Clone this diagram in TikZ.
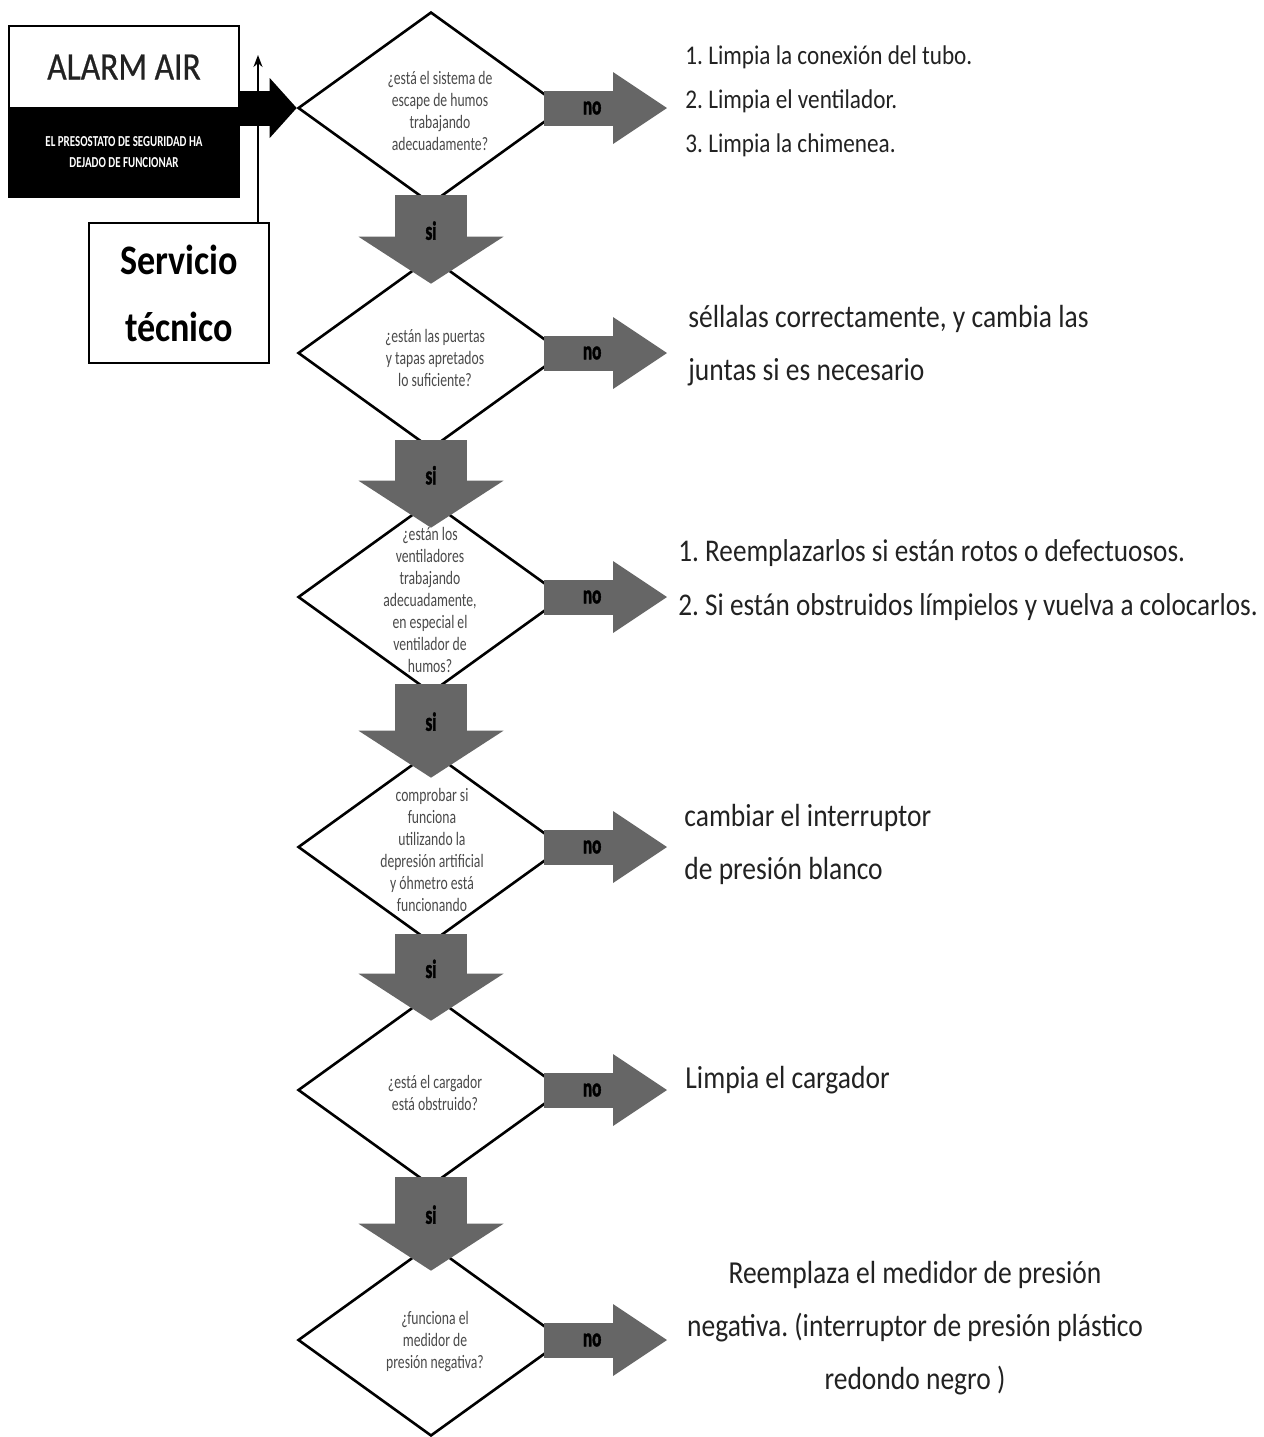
\documentclass[tikz,border=0pt]{standalone}
\usepackage{fontspec}
\setmainfont{Carlito}[FakeStretch=0.86]
\newfontfamily\condfont{Carlito}[FakeStretch=0.72]
\newfontfamily\labelfont{Carlito}[FakeStretch=0.66, BoldFeatures={FakeBold=1.6}]
\newfontfamily\alarmfont{Carlito}[FakeStretch=0.86, FakeBold=0.6]
\frenchspacing
\usetikzlibrary{shapes.geometric}
\usetikzlibrary{arrows.meta}
\usetikzlibrary{calc}

\definecolor{arrowgray}{HTML}{666666}
\definecolor{qgray}{HTML}{4A4A4A}
\definecolor{textdark}{HTML}{222222}

\tikzset{
  decision/.style={draw, diamond, line width=1.3pt, minimum width=133pt, minimum height=96pt, inner sep=0pt},
  question/.style={align=center, text=qgray, inner sep=0pt, font=\condfont\fontsize{9.5}{11}\selectfont},
  answer/.style={anchor=west, align=left, inner sep=0pt, text=textdark, font=\fontsize{16}{26.5}\selectfont},
  siarrow/.style={draw=arrowgray, line width=36pt, -{Triangle[width=72.5pt,length=23.5pt,line width=0pt]}},
  noarrow/.style={draw=arrowgray, line width=17.5pt, -{Triangle[width=36pt,length=27pt,line width=0pt]}},
  yesno/.style={text=black, font=\labelfont\bfseries\fontsize{13}{13}\selectfont},
}

\begin{document}
\begin{tikzpicture}[x=0.5pt, y=-0.5pt]
    \useasboundingbox (0,0) rectangle (1264,1437);

    % alarm box and service box
    \node[draw, line width=1.2pt, minimum width=115pt, minimum height=41pt, inner sep=0pt, text=textdark, font=\alarmfont\fontsize{19.5}{20}\selectfont] (alarm) at (124,67) {ALARM AIR};
    \node[draw, fill=black, line width=1.2pt, minimum width=115pt, minimum height=44.5pt, inner sep=0pt, align=center, text=white, font=\condfont\bfseries\fontsize{7.6}{10.5}\selectfont] (alarmsub) at (124,152.5) {EL PRESOSTATO DE SEGURIDAD HA\\DEJADO DE FUNCIONAR};
    \node[draw, line width=0.9pt, minimum width=90pt, minimum height=70pt, inner sep=0pt, align=center, font=\bfseries\fontsize{21}{33.5}\selectfont] (servicio) at (179,293) {Servicio\\técnico};

    % decisions
    \node[decision] (d1) at (431,108) {};
    \node[decision] (d2) at (431,353) {};
    \node[decision] (d3) at (431,597) {};
    \node[decision] (d4) at (431,847) {};
    \node[decision] (d5) at (431,1090) {};
    \node[decision] (d6) at (431,1340) {};

    % answers
    \node[answer, font=\fontsize{13.5}{22}\selectfont] (a1) at (685,101) {1. Limpia la conexión del tubo.\\2. Limpia el ventilador.\\3. Limpia la chimenea.};
    \node[answer] (a2) at (688,346) {séllalas correctamente, y cambia las\\juntas si es necesario};
    \node[answer, font=\fontsize{15.8}{27}\selectfont] (a3) at (678,580) {1. Reemplazarlos si están rotos o defectuosos.\\2. Si están obstruidos límpielos y vuelva a colocarlos.};
    \node[answer] (a4) at (684,844) {cambiar el interruptor\\de presión blanco};
    \node[answer] (a5) at (685,1080) {Limpia el cargador};
    \node[answer, anchor=center, align=center] (a6) at (915,1328) {Reemplaza el medidor de presión\\negativa. (interruptor de presión plástico\\redondo negro )};

    % arrows
    \draw[line width=17.5pt, -{Triangle[width=30pt,length=13.5pt,line width=0pt]}] (alarm.east |- d1.west) -- (d1.west);
    \coordinate (feedtip) at (258,55);
    \draw[line width=0.9pt, -{Stealth[length=6pt,width=4.5pt]}] (servicio.north -| feedtip) -- (feedtip);

    \foreach \a/\b in {d1/d2, d2/d3, d3/d4, d4/d5, d5/d6}
        \draw[siarrow] ($(\a.south)+(0,-10)$) -- ($(\b.north)+(0,28)$) node[yesno, pos=0.4] {si};

    \draw[noarrow] ($(d1.east)+(-21,0)$) -- ($(a1.west |- d1.east)+(-18,0)$) node[yesno, pos=0.39] {no};
    \draw[noarrow] ($(d2.east)+(-21,0)$) -- ($(a2.west |- d2.east)+(-21,0)$) node[yesno, pos=0.39] {no};
    \draw[noarrow] ($(d3.east)+(-21,0)$) -- ($(a3.west |- d3.east)+(-11,0)$) node[yesno, pos=0.39] {no};
    \draw[noarrow] ($(d4.east)+(-21,0)$) -- ($(a4.west |- d4.east)+(-17,0)$) node[yesno, pos=0.39] {no};
    \draw[noarrow] ($(d5.east)+(-21,0)$) -- ($(a5.west |- d5.east)+(-18,0)$) node[yesno, pos=0.39] {no};
    \draw[noarrow] ($(d6.east)+(-21,0)$) -- ($(a6.center |- d6.east)+(-248,0)$) node[yesno, pos=0.39] {no};

    % questions
    \node[question] (q1) at (440,111) {¿está el sistema de\\escape de humos\\trabajando\\adecuadamente?};
    \node[question] (q2) at (435,358) {¿están las puertas\\y tapas apretados\\lo suficiente?};
    \node[question] (q3) at (430,600) {¿están los\\ventiladores\\trabajando\\adecuadamente,\\en especial el\\ventilador de\\humos?};
    \node[question] (q4) at (432,850) {comprobar si\\funciona\\utilizando la\\depresión artificial\\y óhmetro está\\funcionando};
    \node[question] (q5) at (435,1093) {¿está el cargador\\está obstruido?};
    \node[question] (q6) at (435,1342) {¿funciona el\\medidor de\\presión negativa?};
\end{tikzpicture}
\end{document}
